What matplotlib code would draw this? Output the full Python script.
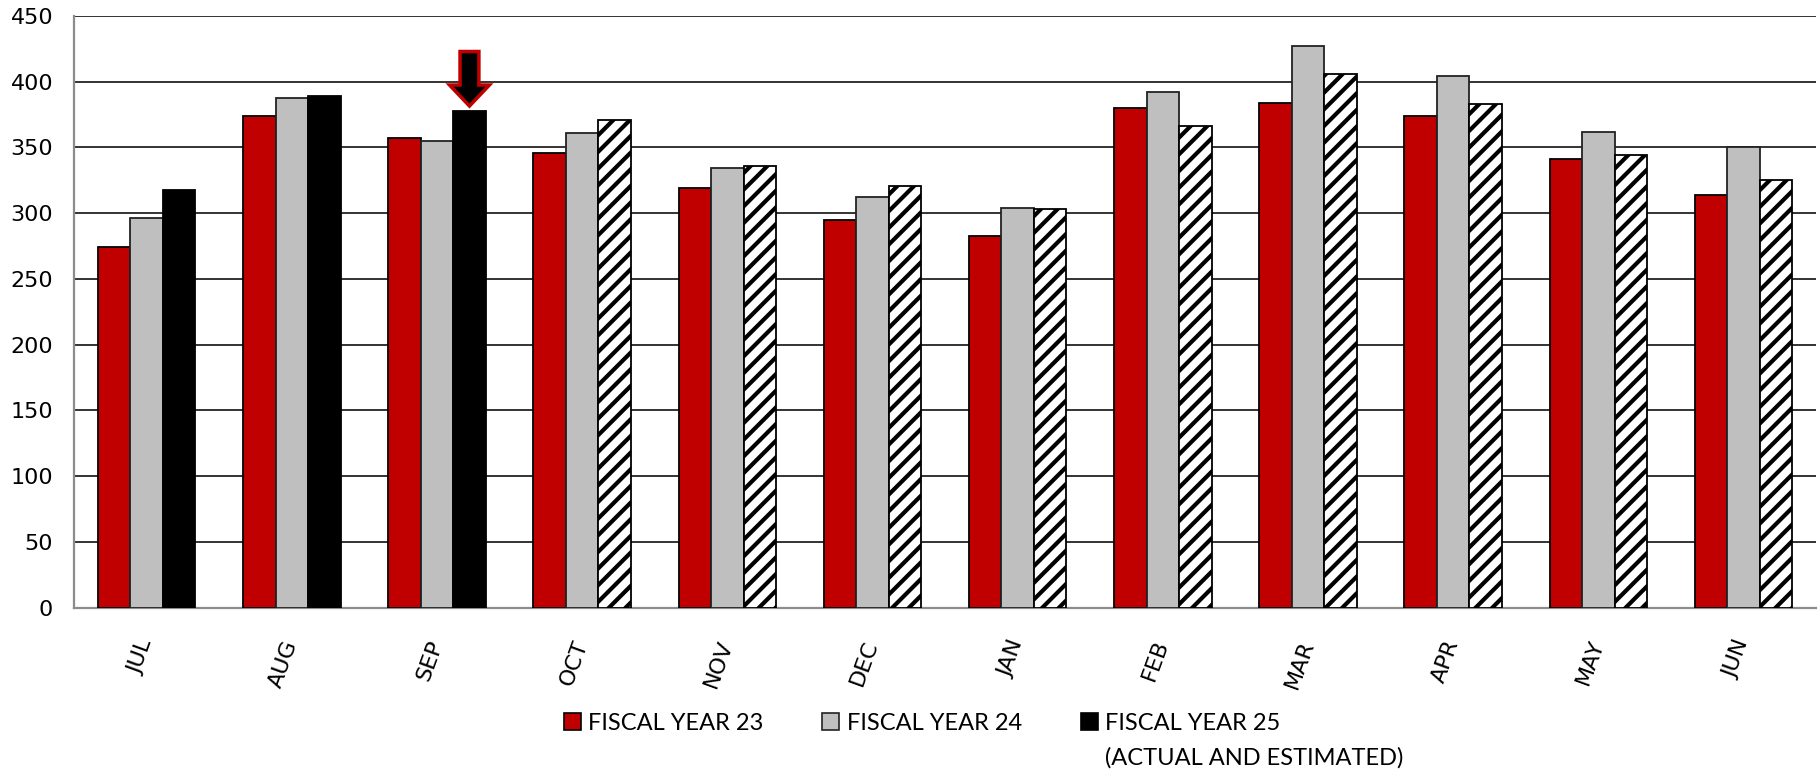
import numpy as np
import matplotlib
matplotlib.use("Agg")
import matplotlib.pyplot as plt
from matplotlib.patches import Patch, FancyArrow

months = ['JUL', 'AUG', 'SEP', 'OCT', 'NOV', 'DEC',
          'JAN', 'FEB', 'MAR', 'APR', 'MAY', 'JUN']
fy23 = [274, 374, 357, 346, 319, 295, 283, 380, 384, 374, 341, 314]
fy24 = [296, 388, 355, 361, 334, 312, 304, 392, 427, 404, 362, 350]
fy25 = [318, 389, 378, 371, 336, 321, 303, 366, 406, 383, 344, 325]
n_actual = 3          # JUL-SEP actual, rest estimated (hatched)
arrow_month = 'SEP'

series_labels = ['FISCAL YEAR 23', 'FISCAL YEAR 24', 'FISCAL YEAR 25']
fy25_note = '(ACTUAL AND ESTIMATED)'

RED = '#C00000'
GREY = '#BFBFBF'
plt.rcParams['hatch.linewidth'] = 3.0

fig = plt.figure(figsize=(18.18, 7.77), dpi=100)
ax = fig.add_axes([0.0407, 0.2181, 0.9583, 0.7613])

x = np.arange(len(months))
w = 0.224

ax.bar(x - w, fy23, w, color=RED, edgecolor='black', linewidth=1.3, zorder=3)
ax.bar(x, fy24, w, color=GREY, edgecolor='#222222', linewidth=1.3, zorder=3)
bars25 = ax.bar(x + w, fy25, w, color='black', edgecolor='black', linewidth=1.3, zorder=3)
for i, b in enumerate(bars25):
    if i >= n_actual:
        b.set_facecolor('white')
        b.set_hatch('//')

# arrow pointing at the latest actual month
i = months.index(arrow_month)
y_tip = fy25[i] + 3.5
y_top = fy25[i] + 45
arr = FancyArrow(x[i] + w, y_top, 0, -(y_top - y_tip), width=0.13, head_width=0.275,
                 head_length=16, length_includes_head=True,
                 facecolor='black', edgecolor=RED, linewidth=2.5, zorder=5)
ax.add_patch(arr)

ax.set_xlim(-0.5, len(months) - 0.5)
ax.set_ylim(0, 450)
ax.set_yticks(np.arange(0, 451, 50))
ax.yaxis.grid(True, color='#333333', linewidth=1.4, zorder=0)
ax.set_axisbelow(True)

for s in ['top', 'right']:
    ax.spines[s].set_visible(False)
for s in ['left', 'bottom']:
    ax.spines[s].set_color('#8c8c8c')
    ax.spines[s].set_linewidth(1.6)

ax.tick_params(axis='y', length=0, pad=15, labelsize=16)
ax.tick_params(axis='x', length=0, pad=24, labelsize=16)
ax.set_xticks(x)
ax.set_xticklabels(months, rotation=70, ha='right', va='center',
                   rotation_mode='anchor')

handles = [Patch(facecolor=RED, edgecolor='black', linewidth=1.2),
           Patch(facecolor=GREY, edgecolor='#222222', linewidth=1.2),
           Patch(facecolor='black', edgecolor='black', linewidth=1.2)]
leg = fig.legend(handles, series_labels, loc='upper left',
                 bbox_to_anchor=(0.3102, 0.083), ncol=3, frameon=False,
                 prop={'family': 'Lato', 'size': 17}, handlelength=0.72,
                 handleheight=0.72, handletextpad=0.3, columnspacing=2.5,
                 borderpad=0, borderaxespad=0)

# second line under the last legend entry
fig.canvas.draw()
bb = leg.get_texts()[2].get_window_extent()
x0 = bb.x0 / fig.bbox.width
fig.text(x0, 1 - 758 / 777, fy25_note, family='Lato', size=17, va='center', ha='left')

fig.savefig('out.png', dpi=100)
